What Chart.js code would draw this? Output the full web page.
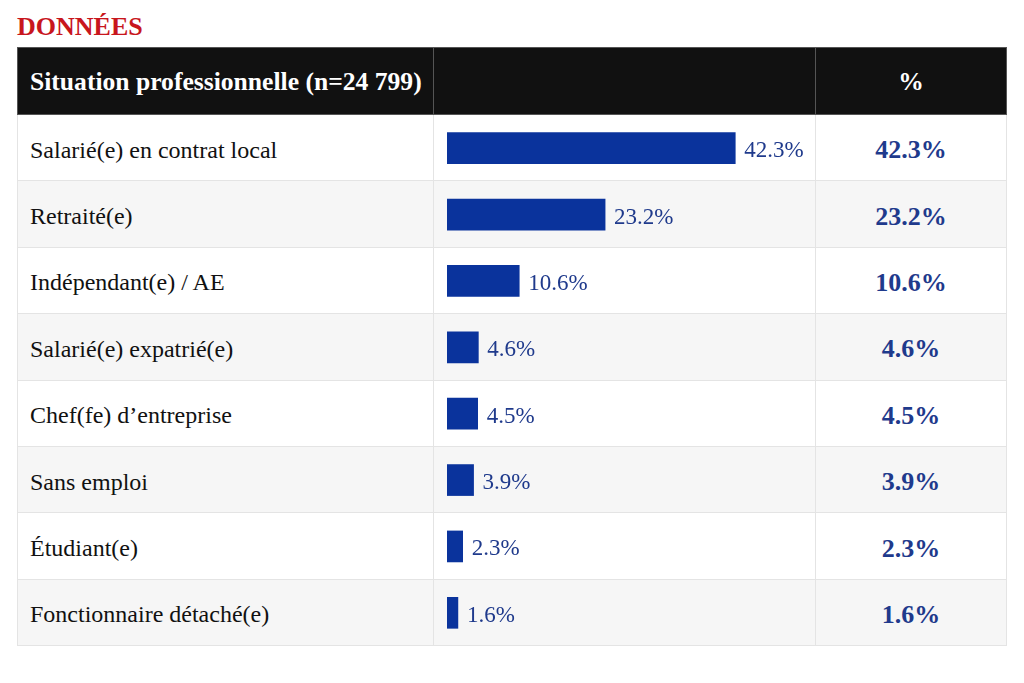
<!DOCTYPE html>
<html lang="fr">
<head>
<meta charset="utf-8">
<script src="https://cdn.jsdelivr.net/npm/chart.js@4"></script>
<style>
  body { margin: 0; background: #fff; font-family: "Liberation Serif", "DejaVu Serif", serif; }
  #titre { position: absolute; left: 17px; top: 10px; margin: 0; color: #c8161d; font-size: 26px; font-weight: bold; line-height: 34px; }
  #tableau { position: absolute; left: 17px; top: 47px; border-collapse: collapse; table-layout: fixed; width: 989px; }
  #tableau th { background: #111; color: #fff; height: 67px; box-sizing: border-box; font-size: 25.6px; font-weight: bold; border: 1px solid #555; padding: 2px 0 0 0; }
  #tableau th:first-child { text-align: left; padding-left: 12px; }
  #tableau td { height: 66.4px; padding: 5px 0 0 0; border: 1px solid #e4e4e4; font-size: 24px; color: #111; box-sizing: border-box; }
  #tableau td.lib { padding-left: 12px; }
  #tableau td.pct { text-align: center; font-weight: bold; font-size: 26px; color: #1f3a8c; }
  #tableau tbody tr:nth-child(even) td { background: #f6f6f6; }
  #zone { position: absolute; left: 447px; top: 115px; width: 368px; height: 531px; }
</style>
</head>
<body>
<h1 id="titre">DONNÉES</h1>
<table id="tableau">
  <colgroup><col style="width:416px"><col style="width:382px"><col style="width:191px"></colgroup>
  <thead><tr><th>Situation professionnelle (n=24 799)</th><th></th><th>%</th></tr></thead>
  <tbody id="corps"></tbody>
</table>
<div id="zone"><canvas id="myChart"></canvas></div>
<script>
const categories = ['Salarié(e) en contrat local', 'Retraité(e)', 'Indépendant(e) / AE', 'Salarié(e) expatrié(e)',
  'Chef(fe) d’entreprise', 'Sans emploi', 'Étudiant(e)', 'Fonctionnaire détaché(e)'];
const pourcentages = [42.3, 23.2, 10.6, 4.6, 4.5, 3.9, 2.3, 1.6];
const etiquettes = pourcentages.map(v => v.toFixed(1) + '%');

// lignes du tableau
const corps = document.getElementById('corps');
categories.forEach((cat, i) => {
  const tr = document.createElement('tr');
  tr.innerHTML = '<td class="lib"></td><td></td><td class="pct"></td>';
  tr.children[0].textContent = cat;
  tr.children[2].textContent = etiquettes[i];
  corps.appendChild(tr);
});

const valeurs = {
  id: 'valeurs',
  afterDatasetsDraw(chart) {
    const ctx = chart.ctx;
    ctx.save();
    ctx.font = '23px "Liberation Serif"';
    ctx.fillStyle = '#1f3a8c';
    ctx.textBaseline = 'middle';
    chart.getDatasetMeta(0).data.forEach((barre, i) => {
      ctx.fillText(etiquettes[i], barre.x + 9, barre.y + 3);
    });
    ctx.restore();
  }
};

new Chart(document.getElementById('myChart'), {
  type: 'bar',
  data: {
    labels: categories,
    datasets: [{
      data: pourcentages,
      backgroundColor: '#0a339c',
      borderWidth: 0,
      barThickness: 31
    }]
  },
  options: {
    indexAxis: 'y',
    responsive: true,
    maintainAspectRatio: false,
    animation: false,
    layout: { padding: 0 },
    plugins: { legend: { display: false }, tooltip: { enabled: false } },
    scales: {
      x: { display: false, min: 0, max: 54 },
      y: { display: false }
    }
  },
  plugins: [valeurs]
});
</script>
</body>
</html>
